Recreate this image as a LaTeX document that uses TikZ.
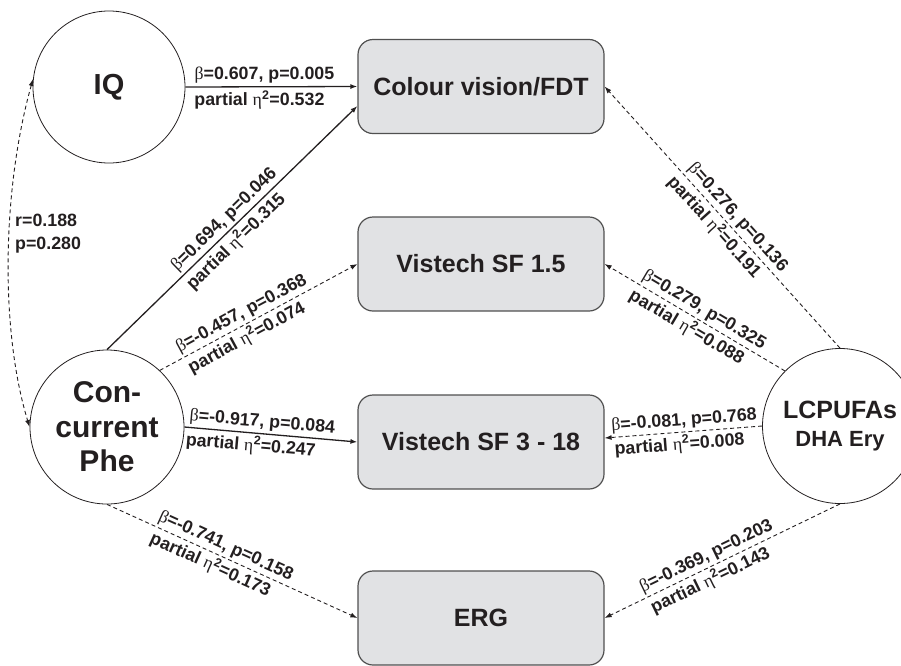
\documentclass[tikz,border=0pt]{standalone}
\usepackage{fontspec}
\setmainfont{Liberation Sans}
\newfontfamily\grk{Liberation Serif}
\usetikzlibrary{arrows.meta}
\definecolor{boxfill}{HTML}{E1E2E4}
\definecolor{boxdraw}{HTML}{505050}
\definecolor{ink}{HTML}{231F20}
\newcommand{\bt}{{\grk\mdseries β}}
\newcommand{\et}{{\grk\mdseries η}}
\begin{document}
\begin{tikzpicture}[x=1pt,y=-1pt,
  every node/.style={text=ink},
  varbox/.style={draw=boxdraw, line width=1.2pt, fill=boxfill, rounded corners=15pt,
    minimum width=246pt, minimum height=94pt, font=\bfseries\fontsize{25}{28}\selectfont, inner sep=0pt},
  varcirc/.style={draw=ink, line width=0.8pt, circle, minimum size=154pt, inner sep=0pt, align=center},
  tip/.style={-{Latex[length=7pt,width=5pt]}},
  sig/.style={draw=ink, line width=1.3pt, tip},
  nsig/.style={draw=ink, line width=0.9pt, dash pattern=on 4pt off 3pt, tip},
  lbl/.style={font=\bfseries\fontsize{17.8}{20}\selectfont, inner sep=1pt},
  up/.style={lbl, sloped, above=1.3pt},
  dn/.style={lbl, sloped, below=1.3pt},
]
\path[use as bounding box] (0,0) rectangle (901,665);
\clip (0,0) rectangle (901,665);

% variables
\node[varcirc, minimum size=152pt, font=\bfseries\fontsize{29}{32}\selectfont] (iq) at (109,87) {IQ};
\node[varcirc, font=\bfseries\fontsize{30}{34.5}\selectfont] (phe) at (107,427) {Con-\\current\\Phe};
\node[varcirc, minimum size=155pt, font=\bfseries\fontsize{25}{28}\selectfont] (lcp) at (840,426)
  {LCPUFAs\\{\fontsize{22}{28}\selectfont DHA Ery}};

\node[varbox] (cv)  at (481,86.5) {Colour vision/FDT};
\node[varbox] (sf1) at (481,264) {Vistech SF 1.5};
\node[varbox] (sf3) at (481,442) {Vistech SF 3 - 18};
\node[varbox] (erg) at (481,618) {ERG};

% correlation
\draw[nsig, {Latex[length=7pt,width=5pt]}-{Latex[length=7pt,width=5pt]}]
  (iq.174) .. controls (2,190) and (0,330) .. (phe.west);
\node[lbl, anchor=west, align=left, font=\bfseries\fontsize{17.8}{23}\selectfont] (rp) at (14,233.5) {r=0.188\\p=0.280};

% IQ
\draw[sig] (iq.east) -- (cv.west)
  node[lbl, above=2pt, pos=0.5, xshift=-7pt] {\bt=0.607, p=0.005}
  node[lbl, below=2pt, pos=0.5, xshift=-12pt] {partial \et\textsuperscript{2}=0.532};

% Concurrent Phe
\draw[sig] (phe.north) -- ([yshift=-19.5pt]cv.west)
  node[up, pos=0.5] {\bt=0.694, p=0.046}
  node[dn, pos=0.48] {partial \et\textsuperscript{2}=0.315};
\draw[nsig] (phe.47) -- (sf1.west)
  node[up, pos=0.44] {\bt=-0.457, p=0.368}
  node[dn, pos=0.41] {partial \et\textsuperscript{2}=0.074};
\draw[sig] (phe.east) -- (sf3.west)
  node[up, pos=0.445] {\bt=-0.917, p=0.084}
  node[dn, pos=0.39] {partial \et\textsuperscript{2}=0.247};
\draw[nsig] (phe.south) -- (erg.west)
  node[up, pos=0.456] {\bt=-0.741, p=0.158}
  node[dn, pos=0.433] {partial \et\textsuperscript{2}=0.173};

% LCPUFAs
\draw[nsig] (lcp.north) -- (cv.east)
  node[up, pos=0.47] {\bt=0.276, p=0.136}
  node[dn, pos=0.495] {partial \et\textsuperscript{2}=0.191};
\draw[nsig] (lcp.135.5) -- (sf1.east)
  node[up, pos=0.48] {\bt=0.279, p=0.325}
  node[dn, pos=0.51] {partial \et\textsuperscript{2}=0.088};
\draw[nsig] (lcp.west) -- ([yshift=4pt]sf3.east)
  node[up, pos=0.49] {\bt=-0.081, p=0.768}
  node[dn, pos=0.53] {partial \et\textsuperscript{2}=0.008};
\draw[nsig] (lcp.south) -- (erg.east)
  node[up, pos=0.547] {\bt=-0.369, p=0.203}
  node[dn, pos=0.574] {partial \et\textsuperscript{2}=0.143};
\end{tikzpicture}
\end{document}
